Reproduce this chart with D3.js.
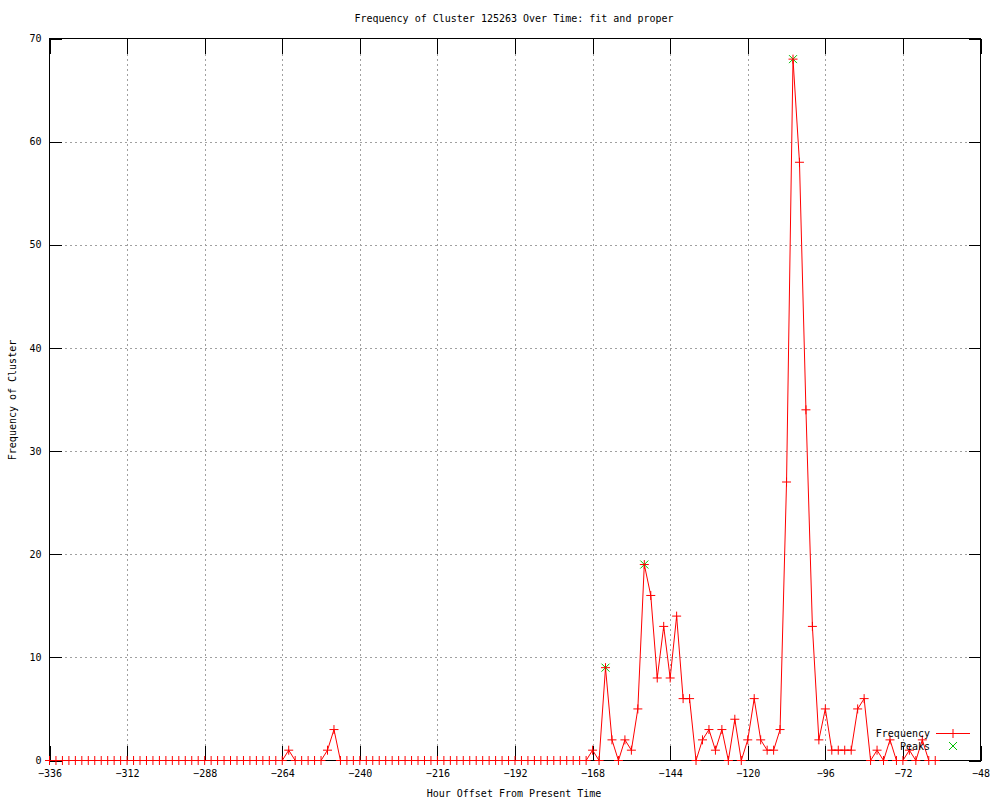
<!DOCTYPE html>
<html>
<head>
<meta charset="utf-8">
<script src="https://cdn.jsdelivr.net/npm/d3@7"></script>
<style>
  body { margin: 0; background: #fff; }
  svg text { font-family: "DejaVu Sans Mono", monospace; font-size: 10px; fill: #000; }
</style>
</head>
<body>
<div id="chart"></div>
<script>
// hours (offset from present) and cluster frequency at each
const hours = [
  -336, -334, -332, -330, -328, -326, -324, -322, -320, -318, -316, -314, -312, -310, -308, -306,
  -304, -302, -300, -298, -296, -294, -292, -290, -288, -286, -284, -282, -280, -278, -276, -274,
  -272, -270, -268, -266, -264, -262, -260, -258, -256, -254, -252, -250, -248, -246, -244, -242,
  -240, -238, -236, -234, -232, -230, -228, -226, -224, -222, -220, -218, -216, -214, -212, -210,
  -208, -206, -204, -202, -200, -198, -196, -194, -192, -190, -188, -186, -184, -182, -180, -178,
  -176, -174, -172, -170, -168, -166, -164, -162, -160, -158, -156, -154, -152, -150, -148, -146,
  -144, -142, -140, -138, -136, -134, -132, -130, -128, -126, -124, -122, -120, -118, -116, -114,
  -112, -110, -108, -106, -104, -102, -100, -98, -96, -94, -92, -90, -88, -86, -84, -82,
  -80, -78, -76, -74, -72, -70, -68, -66, -64, -62
];
const frequency = [
  0, 0, 0, 0, 0, 0, 0, 0, 0, 0, 0, 0, 0, 0, 0, 0,
  0, 0, 0, 0, 0, 0, 0, 0, 0, 0, 0, 0, 0, 0, 0, 0,
  0, 0, 0, 0, 0, 1, 0, 0, 0, 0, 0, 1, 3, 0, 0, 0,
  0, 0, 0, 0, 0, 0, 0, 0, 0, 0, 0, 0, 0, 0, 0, 0,
  0, 0, 0, 0, 0, 0, 0, 0, 0, 0, 0, 0, 0, 0, 0, 0,
  0, 0, 0, 0, 1, 0, 9, 2, 0, 2, 1, 5, 19, 16, 8, 13,
  8, 14, 6, 6, 0, 2, 3, 1, 3, 0, 4, 0, 2, 6, 2, 1,
  1, 3, 27, 68, 58, 34, 13, 2, 5, 1, 1, 1, 1, 5, 6, 0,
  1, 0, 2, 0, 0, 1, 0, 2, 0, 0
];
const peakHours = [-164, -152, -106];
const peakValues = [9, 19, 68];

const xTicks = [-336, -312, -288, -264, -240, -216, -192, -168, -144, -120, -96, -72, -48];
const yTicks = [0, 10, 20, 30, 40, 50, 60, 70];

const width = 1000;
const height = 800;
const plotLeft = 49.5, plotRight = 980.5, plotTop = 38.5, plotBottom = 760.5;

const svg = d3.select('#chart')
  .append('svg')
  .attr('width', width)
  .attr('height', height);

const x = d3.scaleLinear().domain([-336, -48]).range([plotLeft, plotRight]);
const y = d3.scaleLinear().domain([0, 70]).range([plotBottom, plotTop]);

// grid
const grid = svg.append('g')
  .attr('stroke', '#a0a0a0')
  .attr('stroke-dasharray', '2,3')
  .attr('shape-rendering', 'crispEdges');
grid.selectAll('.gx')
  .data(xTicks.slice(1, -1))
  .enter()
  .append('line')
  .attr('x1', d => Math.round(x(d)) + 0.5)
  .attr('x2', d => Math.round(x(d)) + 0.5)
  .attr('y1', plotTop)
  .attr('y2', plotBottom);
grid.selectAll('.gy')
  .data(yTicks.slice(1, -1))
  .enter()
  .append('line')
  .attr('x1', plotLeft)
  .attr('x2', plotRight)
  .attr('y1', d => Math.round(y(d)) + 0.5)
  .attr('y2', d => Math.round(y(d)) + 0.5);

// axes (ticks point inward, mirrored on top and right)
const styleAxis = g => {
  g.select('.domain').remove();
  g.selectAll('line').attr('stroke', '#000').attr('shape-rendering', 'crispEdges');
  g.selectAll('text').style('font-family', '"DejaVu Sans Mono", monospace').style('font-size', '10px');
};

svg.append('g')
  .attr('transform', `translate(0,${plotBottom})`)
  .call(d3.axisBottom(x).tickValues(xTicks).tickSizeInner(-15).tickSizeOuter(0).tickPadding(9))
  .call(styleAxis);

svg.append('g')
  .attr('transform', `translate(0,${plotTop})`)
  .call(d3.axisTop(x).tickValues(xTicks).tickSizeInner(-15).tickSizeOuter(0).tickFormat(''))
  .call(styleAxis);

svg.append('g')
  .attr('transform', `translate(${plotLeft},0)`)
  .call(d3.axisLeft(y).tickValues(yTicks).tickSizeInner(-12).tickSizeOuter(0).tickPadding(8))
  .call(styleAxis);

svg.append('g')
  .attr('transform', `translate(${plotRight},0)`)
  .call(d3.axisRight(y).tickValues(yTicks).tickSizeInner(-12).tickSizeOuter(0).tickFormat(''))
  .call(styleAxis);

svg.append('rect')
  .attr('x', plotLeft)
  .attr('y', plotTop)
  .attr('width', plotRight - plotLeft)
  .attr('height', plotBottom - plotTop)
  .attr('fill', 'none')
  .attr('stroke', '#000')
  .attr('shape-rendering', 'crispEdges');

// frequency line
const data = hours.map((h, i) => ({ h: h, v: frequency[i] }));
const line = d3.line().x(d => x(d.h)).y(d => y(d.v));

svg.append('path')
  .datum(data)
  .attr('fill', 'none')
  .attr('stroke', '#ff0000')
  .attr('stroke-width', 1)
  .attr('d', line);

// peaks (green x)
const peaks = peakHours.map((h, i) => ({ h: h, v: peakValues[i] }));
const cross = (cx, cy, r) => `M${cx - r},${cy - r}L${cx + r},${cy + r}M${cx - r},${cy + r}L${cx + r},${cy - r}`;
const plus = (cx, cy, r) => `M${cx - r},${cy}L${cx + r},${cy}M${cx},${cy - r}L${cx},${cy + r}`;

svg.append('g')
  .selectAll('path')
  .data(peaks)
  .enter()
  .append('path')
  .attr('d', d => cross(x(d.h), y(d.v), 4))
  .attr('stroke', '#00c000')
  .attr('fill', 'none');

svg.append('g')
  .selectAll('path')
  .data(data)
  .enter()
  .append('path')
  .attr('d', d => plus(x(d.h), y(d.v), 4.5))
  .attr('stroke', '#ff0000')
  .attr('fill', 'none');

// legend
const legend = svg.append('g');
legend.append('text')
  .attr('x', 930)
  .attr('y', 737)
  .attr('text-anchor', 'end')
  .text('Frequency');
legend.append('line')
  .attr('x1', 936).attr('x2', 970)
  .attr('y1', 733.5).attr('y2', 733.5)
  .attr('stroke', '#ff0000');
legend.append('path')
  .attr('d', plus(953, 733.5, 4.5))
  .attr('stroke', '#ff0000');
legend.append('text')
  .attr('x', 930)
  .attr('y', 750)
  .attr('text-anchor', 'end')
  .text('Peaks');
legend.append('path')
  .attr('d', cross(953, 746, 4))
  .attr('stroke', '#00c000');

// titles
svg.append('text')
  .attr('x', 514)
  .attr('y', 22)
  .attr('text-anchor', 'middle')
  .text('Frequency of Cluster 125263 Over Time: fit and proper');

svg.append('text')
  .attr('x', 514)
  .attr('y', 797)
  .attr('text-anchor', 'middle')
  .text('Hour Offset From Present Time');

svg.append('text')
  .attr('transform', 'translate(16,400) rotate(-90)')
  .attr('text-anchor', 'middle')
  .text('Frequency of Cluster');
</script>
</body>
</html>
